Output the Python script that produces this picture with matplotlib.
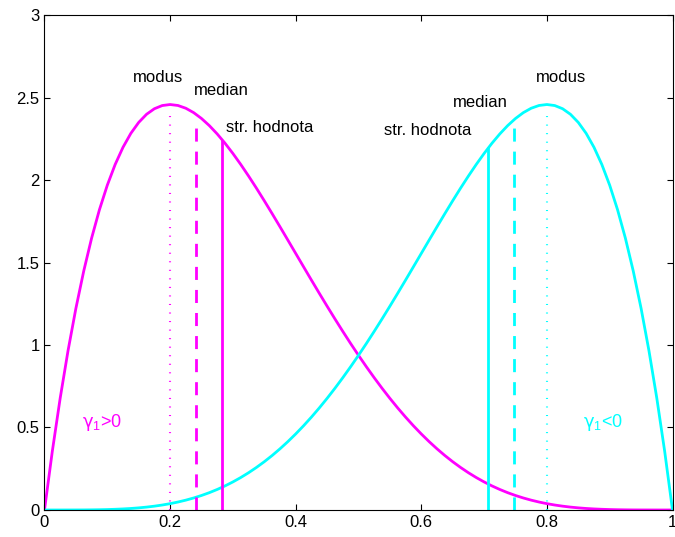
import matplotlib
matplotlib.use("Agg")
import matplotlib.pyplot as plt
import numpy as np

plt.rcParams['font.family'] = ['Liberation Sans', 'DejaVu Sans']
plt.rcParams['mathtext.fontset'] = 'custom'
plt.rcParams['mathtext.rm'] = 'Liberation Sans'
plt.rcParams['mathtext.it'] = 'DejaVu Sans'

x = np.arange(81) * 0.0125
pos_skew = [0.0, 0.3566, 0.6778, 0.9655, 1.2218, 1.4484, 1.6472, 1.8200, 1.9683,
            2.0939, 2.1982, 2.2828, 2.3490, 2.3984, 2.4321, 2.4514, 2.4576,
            2.4518, 2.4351, 2.4085, 2.3730, 2.3297, 2.2793, 2.2228, 2.1609,
            2.0944, 2.0240, 1.9505, 1.8743, 1.7962, 1.7166, 1.6361, 1.5552,
            1.4743, 1.3937, 1.3140, 1.2353, 1.1581, 1.0826, 1.0089, 0.9375,
            0.8684, 0.8018, 0.7378, 0.6766, 0.6182, 0.5628, 0.5103, 0.4608,
            0.4143, 0.3708, 0.3302, 0.2926, 0.2579, 0.2259, 0.1967, 0.1701,
            0.1460, 0.1244, 0.1050, 0.0879, 0.0728, 0.0596, 0.0482, 0.0384,
            0.0301, 0.0232, 0.0175, 0.0129, 0.0092, 0.0064, 0.0043, 0.0027,
            0.0016, 0.0009, 0.0004, 0.0002, 0.0001, 0.0, 0.0, 0.0]
neg_skew = [0.0, 0.0, 0.0, 0.0001, 0.0002, 0.0004, 0.0009, 0.0016, 0.0027,
            0.0043, 0.0064, 0.0092, 0.0129, 0.0175, 0.0232, 0.0301, 0.0384,
            0.0482, 0.0596, 0.0728, 0.0879, 0.1050, 0.1244, 0.1460, 0.1701,
            0.1967, 0.2259, 0.2579, 0.2926, 0.3302, 0.3708, 0.4143, 0.4608,
            0.5103, 0.5628, 0.6182, 0.6766, 0.7378, 0.8018, 0.8684, 0.9375,
            1.0089, 1.0826, 1.1581, 1.2353, 1.3140, 1.3937, 1.4743, 1.5552,
            1.6361, 1.7166, 1.7962, 1.8743, 1.9505, 2.0240, 2.0944, 2.1609,
            2.2228, 2.2793, 2.3297, 2.3730, 2.4085, 2.4351, 2.4518, 2.4576,
            2.4514, 2.4321, 2.3984, 2.3490, 2.2828, 2.1982, 2.0939, 1.9683,
            1.8200, 1.6472, 1.4484, 1.2218, 0.9655, 0.6778, 0.3566, 0.0]

# modus, median, mean and the heights their markers reach
stats_pos = [0.2, 0.2415, 0.282]
tops_pos = [2.43, 2.32, 2.245]
stats_neg = [0.8, 0.7475, 0.707]
tops_neg = [2.43, 2.32, 2.20]

magenta = (1, 0, 1)
cyan = (0, 1, 1)

fig = plt.figure(figsize=(6.75, 5.37), dpi=100)
ax = fig.add_axes([0.0659, 0.0503, 0.9304, 0.9217])

ax.plot(x, pos_skew, color=magenta, lw=2)
ax.plot(x, neg_skew, color=cyan, lw=2)

# dotted = modus, dashed = median, solid = mean
styles = [((0, (0.5, 3.6)), 1.5), ((0, (4.7, 3.6)), 2), ('-', 2)]
for s, t, (ls, w) in zip(stats_pos, tops_pos, styles):
    ax.vlines(s, 0, t, color=magenta, linestyles=[ls], lw=w)
for s, t, (ls, w) in zip(stats_neg, tops_neg, styles):
    ax.vlines(s, 0, t, color=cyan, linestyles=[ls], lw=w)

fs = 12
ax.text(0.141, 2.62, 'modus', fontsize=fs, va='center')
ax.text(0.238, 2.545, 'median', fontsize=fs, va='center')
ax.text(0.289, 2.32, 'str. hodnota', fontsize=fs, va='center')
ax.text(0.540, 2.30, 'str. hodnota', fontsize=fs, va='center')
ax.text(0.651, 2.47, 'median', fontsize=fs, va='center')
ax.text(0.783, 2.62, 'modus', fontsize=fs, va='center')
ax.text(0.060, 0.53, r'$\gamma_1$>0', fontsize=13, va='center', color=magenta)
ax.text(0.858, 0.53, r'$\gamma_1$<0', fontsize=13, va='center', color=cyan)

ax.set_xlim(0, 1)
ax.set_ylim(0, 3)
ax.set_xticks([0, 0.2, 0.4, 0.6, 0.8, 1])
ax.set_xticklabels(['0', '0.2', '0.4', '0.6', '0.8', '1'])
ax.set_yticks([0, 0.5, 1, 1.5, 2, 2.5, 3])
ax.set_yticklabels(['0', '0.5', '1', '1.5', '2', '2.5', '3'])
ax.tick_params(direction='in', top=True, right=True, labelsize=fs, length=4)

fig.savefig('out.png', dpi=100)
